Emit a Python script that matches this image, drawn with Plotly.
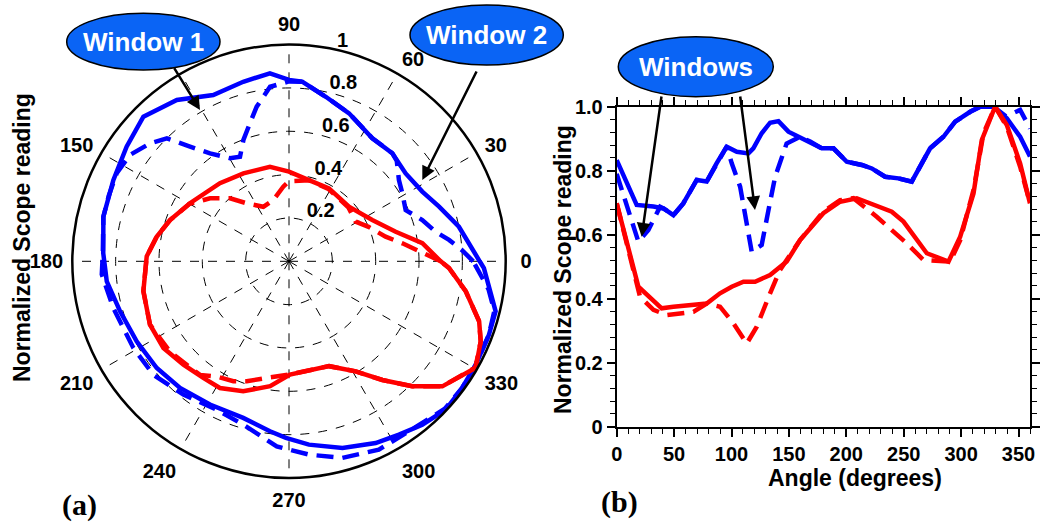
import plotly.graph_objects as go

# ---------------- Polar panel (a) data ----------------
pol_blue_solid_theta = [0, 11.5, 20, 27.6, 37, 46.3, 55.9, 67.9, 77.4, 85.8, 90, 95.8, 104.3, 114.5,
                        124.8, 135.2, 144.8, 155.2, 166.5, 177.5, 186.3, 196.5, 207.7, 218.9, 229.3,
                        241.1, 253.7, 263.6, 269, 276.2, 286, 295.5, 302.4, 309.2, 316.6, 323.8, 331,
                        339.8, 346.4, 358, 360]
pol_blue_solid_r = [0.88, 0.80, 0.737, 0.694, 0.674, 0.690, 0.686, 0.737, 0.778, 0.831, 0.837, 0.872,
                    0.855, 0.843, 0.907, 0.947, 0.917, 0.893, 0.881, 0.858, 0.846, 0.813, 0.794, 0.784,
                    0.771, 0.755, 0.753, 0.789, 0.815, 0.851, 0.896, 0.929, 0.947, 0.973, 0.996, 0.99,
                    0.985, 0.983, 0.981, 0.90, 0.88]

pol_blue_dash_theta = [0, 3.7, 7.6, 11.4, 17.2, 23.7, 31, 36.5, 43, 46.3, 55.9, 67.9, 77.4, 85.8, 90,
                       96.2, 101.8, 105.8, 110.6, 115.1, 119.8, 126.2, 130.8, 134.8, 139.7, 146.2,
                       152.9, 160, 166.5, 177.5, 184, 194.9, 209.1, 219.9, 231.6, 244, 254.4, 266.2,
                       275.9, 285.2, 295.5, 305.2, 316.6, 323.8, 331, 339.8, 346.4, 352, 360]
pol_blue_dash_r = [0.85, 0.80, 0.745, 0.69, 0.644, 0.588, 0.61, 0.631, 0.68, 0.690, 0.686, 0.737, 0.778,
                   0.831, 0.83, 0.81, 0.729, 0.662, 0.598, 0.533, 0.548, 0.617, 0.699, 0.80, 0.841, 0.883,
                   0.893, 0.885, 0.881, 0.86, 0.866, 0.839, 0.822, 0.816, 0.785, 0.762, 0.783, 0.856,
                   0.897, 0.940, 0.963, 0.960, 0.99, 0.99, 0.985, 0.983, 0.975, 0.93, 0.85]

pol_red_solid_theta = [0, 7.7, 15.5, 26.4, 42.3, 61.3, 76.2, 90, 101.4, 117.4, 131.5, 149.6, 160.9,
                       169.5, 178, 191.6, 204.5, 214.6, 224.4, 233.7, 241.4, 250.6, 261.4, 270.5,
                       290.9, 301.2, 308.2, 314.6, 320.8, 330.3, 337.3, 342.5, 350.4, 357.6, 360]
pol_red_solid_r = [0.70, 0.621, 0.511, 0.429, 0.374, 0.384, 0.386, 0.414, 0.445, 0.457, 0.481, 0.53,
                   0.581, 0.621, 0.657, 0.686, 0.705, 0.704, 0.682, 0.668, 0.666, 0.636, 0.583, 0.523,
                   0.518, 0.594, 0.697, 0.81, 0.913, 0.992, 0.959, 0.92, 0.827, 0.739, 0.70]

pol_red_dash_theta = [0, 9, 14.3, 23.4, 30.7, 42, 61, 76, 90, 94.4, 104.4, 115.2, 126.1, 133.1, 141.4,
                      150, 160.9, 169.5, 178, 191.6, 204.5, 217.2, 231.9, 237.9, 245.1, 250.6, 259.2,
                      270, 290.9, 301.2, 308.2, 314.6, 320.8, 330.3, 337.3, 342.5, 350.4, 357.6, 360]
pol_red_dash_r = [0.70, 0.53, 0.46, 0.40, 0.358, 0.37, 0.38, 0.385, 0.37, 0.345, 0.292, 0.278, 0.331,
                  0.398, 0.466, 0.53, 0.581, 0.621, 0.657, 0.686, 0.705, 0.69, 0.666, 0.628, 0.61,
                  0.587, 0.548, 0.523, 0.518, 0.594, 0.697, 0.81, 0.913, 0.99, 0.959, 0.92, 0.827,
                  0.739, 0.70]

ang_tickvals = [0, 30, 60, 90, 120, 150, 180, 210, 240, 270, 300, 330]
ang_ticktext = ["0", "30", "60", "90", "", "150", "180", "210", "240", "270", "300", "330"]
rad_tickvals = [0.2, 0.4, 0.6, 0.8, 1.0]
rad_ticktext = ["0.2", "0.4", "0.6", "0.8", "1"]

# ---------------- Cartesian panel (b) data ----------------
car_blue_solid_x = [0, 17.4, 32, 40.7, 49.4, 58, 69.7, 78.4, 87, 95.8, 104.6, 114.7, 119, 126.3, 133.6,
                    140.9, 149.6, 158.3, 168.5, 178.6, 188.8, 200.4, 213.5, 222.2, 233.8, 245.4, 257,
                    264.3, 273, 284.6, 294.8, 307.9, 316.6, 328.2, 339.8, 351.4, 360]
car_blue_solid_y = [0.833, 0.693, 0.688, 0.682, 0.661, 0.698, 0.771, 0.766, 0.823, 0.875, 0.859, 0.854,
                    0.870, 0.917, 0.95, 0.955, 0.922, 0.906, 0.891, 0.870, 0.870, 0.828, 0.818, 0.807,
                    0.781, 0.776, 0.766, 0.8125, 0.870, 0.906, 0.953, 0.984, 1.0, 1.0, 0.964, 0.906,
                    0.844]

car_blue_dash_x = [0, 18.9, 27.6, 37.8, 40.7, 49.4, 58, 69.7, 78.4, 87, 95.8, 100.2, 107.5, 117.6, 126.3,
                   132.2, 138, 148, 159.7, 168.5, 178.6, 188.8, 200.4, 213.5, 222.2, 233.8, 245.4, 257,
                   264.3, 273, 284.6, 294.8, 307.9, 316.6, 328.2, 339, 351.4, 360]
car_blue_dash_y = [0.79, 0.578, 0.615, 0.6875, 0.682, 0.661, 0.698, 0.771, 0.766, 0.823, 0.875, 0.823,
                   0.75, 0.547, 0.568, 0.677, 0.781, 0.885, 0.906, 0.891, 0.870, 0.870, 0.828, 0.818,
                   0.807, 0.781, 0.776, 0.766, 0.8125, 0.870, 0.906, 0.953, 0.984, 1.0, 1.0, 0.97,
                   0.99, 0.932]

car_red_solid_x = [0, 18.9, 39.2, 49.4, 78.4, 90, 100.2, 110.4, 120.5, 133.6, 148.1, 159.7, 180, 194.6,
                   209.1, 223.6, 239.6, 249.8, 260, 270.1, 289, 299.2, 310.8, 318, 329.6, 339.8, 351.4,
                   360]
car_red_solid_y = [0.698, 0.4375, 0.37, 0.375, 0.385, 0.417, 0.4375, 0.453, 0.453, 0.474, 0.516, 0.583,
                   0.667, 0.703, 0.714, 0.693, 0.672, 0.641, 0.594, 0.542, 0.516, 0.594, 0.729, 0.896,
                   1.0, 0.943, 0.823, 0.698]

car_red_dash_x = [0, 20.3, 32, 43.6, 66.8, 78.4, 90, 101.7, 113.3, 122, 133.6, 142.3, 159.7, 180, 194.6,
                  206.2, 226.5, 241, 252.7, 267.2, 290.4, 299.2, 310.8, 319.5, 329.6, 339.8, 351.4, 360]
car_red_dash_y = [0.698, 0.406, 0.365, 0.349, 0.359, 0.385, 0.375, 0.323, 0.26, 0.3125, 0.417, 0.49,
                  0.583, 0.672, 0.708, 0.714, 0.656, 0.609, 0.573, 0.521, 0.516, 0.583, 0.74, 0.917,
                  1.0, 0.9375, 0.8125, 0.698]

y_tickvals = [0, 0.2, 0.4, 0.6, 0.8, 1.0]
y_ticktext = ["0", "0.2", "0.4", "0.6", "0.8", "1.0"]
x_tickvals = [0, 50, 100, 150, 200, 250, 300, 350]
x_ticktext = ["0", "50", "100", "150", "200", "250", "300", "350"]

BLUE = "#0000FF"
RED = "#FF0000"
DASH = "17px,9px"
LW = 4.5
FONT = "Liberation Sans, Arial, sans-serif"
W, H = 1042, 529


def px(x):
    return x / W


def py(y):
    return 1 - y / H


def b(t):
    return "<b>%s</b>" % t if t else ""


def ang_label(t):
    # a little extra room before the single-digit label on the right-hand side
    if t == "0":
        return "&nbsp;" + b(t)
    return b(t)


fig = go.Figure()

for th, r, col, dash in [
    (pol_blue_solid_theta, pol_blue_solid_r, BLUE, "solid"),
    (pol_blue_dash_theta, pol_blue_dash_r, BLUE, DASH),
    (pol_red_solid_theta, pol_red_solid_r, RED, "solid"),
    (pol_red_dash_theta, pol_red_dash_r, RED, DASH),
]:
    fig.add_trace(go.Scatterpolar(theta=th, r=r, mode="lines", subplot="polar",
                                  line=dict(color=col, width=LW, dash=dash), showlegend=False))

for x, y, col, dash in [
    (car_blue_solid_x, car_blue_solid_y, BLUE, "solid"),
    (car_blue_dash_x, car_blue_dash_y, BLUE, DASH),
    (car_red_solid_x, car_red_solid_y, RED, "solid"),
    (car_red_dash_x, car_red_dash_y, RED, DASH),
]:
    fig.add_trace(go.Scatter(x=x, y=y, mode="lines", xaxis="x", yaxis="y",
                             line=dict(color=col, width=LW, dash=dash), showlegend=False))

tickfont = dict(family=FONT, size=20, color="black")

fig.update_layout(
    template="none",
    width=W, height=H, autosize=False,
    margin=dict(l=0, r=0, t=0, b=0, pad=0, autoexpand=False),
    paper_bgcolor="white", plot_bgcolor="white",
    showlegend=False,
    polar=dict(
        domain=dict(x=[px(72.3), px(505.7)], y=[py(478), py(44.6)]),
        bgcolor="white",
        angularaxis=dict(rotation=0, direction="counterclockwise",
                         tickmode="array", tickvals=ang_tickvals,
                         ticktext=[ang_label(t) for t in ang_ticktext],
                         showline=True, linecolor="black", linewidth=2.5,
                         showgrid=True, gridcolor="black", griddash="dash", gridwidth=0.8,
                         ticks="outside", ticklen=4, tickcolor="rgba(0,0,0,0)", tickfont=tickfont),
        radialaxis=dict(range=[0, 1], tickmode="array", tickvals=rad_tickvals,
                        ticktext=[b(t) + "<br>&nbsp;" for t in rad_ticktext],
                        angle=80, tickangle=80, side="clockwise",
                        showline=False, ticks="",
                        showgrid=True, gridcolor="black", griddash="dash", gridwidth=0.8,
                        tickfont=tickfont),
    ),
    xaxis=dict(domain=[px(616.7), px(1030)], anchor="y", range=[0, 360], automargin=False,
               tickmode="array", tickvals=x_tickvals, ticktext=[b(t) for t in x_ticktext],
               showline=True, linecolor="black", linewidth=2, mirror="ticks",
               ticks="outside", ticklen=8, tickwidth=1.5, tickcolor="black",
               minor=dict(dtick=10, tick0=0, ticks="outside", ticklen=5, tickwidth=1, tickcolor="black"),
               showgrid=False, zeroline=False, tickfont=tickfont, ticklabelstandoff=0),
    yaxis=dict(domain=[py(426.7), py(106.7)], anchor="x", range=[0, 1], automargin=False,
               tickmode="array", tickvals=y_tickvals, ticktext=[b(t) for t in y_ticktext],
               showline=True, linecolor="black", linewidth=2, mirror="ticks",
               ticks="outside", ticklen=8, tickwidth=1.5, tickcolor="black",
               minor=dict(dtick=0.04, tick0=0, ticks="outside", ticklen=5, tickwidth=1, tickcolor="black"),
               showgrid=False, zeroline=False, tickfont=tickfont),
)

# Ellipse call-outs
ELL = "#0A64F5"
for (x0, x1, y0, y1, label) in [
    (66.7, 220, 13.3, 70, "Window 1"),
    (410, 563.3, 5, 65, "Window 2"),
    (618.3, 773.3, 36.7, 96.7, "Windows"),
]:
    fig.add_shape(type="circle", xref="paper", yref="paper",
                  x0=px(x0), x1=px(x1), y0=py(y1), y1=py(y0),
                  fillcolor=ELL, line=dict(color="black", width=1.5), layer="above")
    fig.add_annotation(x=px((x0 + x1) / 2), y=py((y0 + y1) / 2), xref="paper", yref="paper",
                       xanchor="center", yanchor="middle",
                       text=b(label), showarrow=False,
                       font=dict(family=FONT, size=26, color="white"))

# Arrows (tail -> tip)
for (tx, ty, hx, hy) in [
    (173.3, 66.7, 200, 110),
    (477.3, 70, 422.3, 180),
    (661.7, 95, 641.7, 236.7),
    (740, 95, 755, 210),
]:
    fig.add_annotation(x=px(hx), y=py(hy), xref="paper", yref="paper", text="",
                       showarrow=True, ax=tx - hx, ay=ty - hy, axref="pixel", ayref="pixel",
                       arrowhead=2, arrowsize=1.1, arrowwidth=2.5, arrowcolor="black")

titlefont = dict(family=FONT, size=23, color="black")
for (x, y, t, ang) in [
    (22, 238, "Normalized Scope reading", -90),
    (563, 270, "Normalized Scope reading", -90),
    (855, 478, "Angle (degrees)", 0),
]:
    fig.add_annotation(x=px(x), y=py(y), xref="paper", yref="paper", xanchor="center", yanchor="middle",
                       text=b(t), textangle=ang, showarrow=False, font=titlefont)

labfont = dict(family="Liberation Serif, Times New Roman, serif", size=30, color="black")
for (x, y, t) in [(79, 505, "(a)"), (619, 502, "(b)")]:
    fig.add_annotation(x=px(x), y=py(y), xref="paper", yref="paper", xanchor="center", yanchor="middle",
                       text=b(t), showarrow=False, font=labfont)

fig.write_html("out.html")
